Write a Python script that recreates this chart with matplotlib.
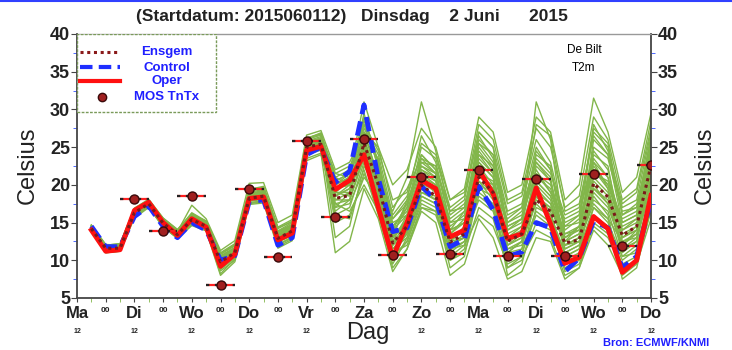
import matplotlib
matplotlib.use("Agg")
import matplotlib.pyplot as plt
from matplotlib.patches import Rectangle
from matplotlib.lines import Line2D

plt.rcParams['font.family'] = ['Liberation Sans', 'DejaVu Sans']

# --- forecast data, De Bilt T2m, run 2015-06-01 12 UTC ---
hours = list(range(6, 241, 6))

oper = [14.0, 11.2, 11.4, 16.6, 17.7, 15.0, 13.3, 15.5, 14.4, 9.2,
        10.8, 18.2, 18.4, 12.7, 13.6, 24.6, 25.1, 19.4, 20.6, 24.0,
        17.0, 10.3, 15.0, 20.6, 19.5, 13.1, 14.0, 22.0, 18.8, 12.9,
        13.5, 19.6, 14.8, 9.6, 10.4, 15.8, 14.2, 8.4, 10.0, 18.6]

control = [14.5, 11.8, 11.8, 15.8, 17.2, 14.5, 13.0, 15.0, 14.0, 10.0,
           10.6, 17.8, 18.0, 12.0, 13.0, 24.0, 25.0, 20.3, 21.8, 30.6,
           20.8, 13.8, 14.3, 19.8, 18.0, 11.8, 12.8, 19.8, 16.7, 10.5,
           11.1, 15.0, 14.3, 8.5, 10.3, 15.2, 14.3, 9.0, 10.5, 18.0]

ensgem = [14.2, 11.6, 11.6, 16.3, 17.5, 14.9, 13.4, 15.4, 14.5, 9.8,
          11.0, 18.2, 18.5, 12.9, 13.9, 25.0, 25.4, 18.2, 18.6, 25.5,
          20.0, 12.3, 14.5, 20.0, 18.5, 12.4, 13.5, 21.0, 19.0, 12.5,
          13.5, 18.0, 16.5, 12.3, 12.7, 20.2, 18.4, 13.3, 14.5, 22.6]

mos_hours = list(range(24, 241, 12))
mos_temp = [18.1, 13.9, 18.5, 6.7, 19.5, 10.5, 25.8, 15.8, 26.1, 10.7,
            21.1, 10.8, 22.0, 10.6, 20.8, 10.6, 21.5, 11.9, 22.6]

members = [
    [14.0, 11.2, 11.5, 16.0, 17.6, 15.0, 13.2, 15.2, 14.3, 9.0, 10.5, 18.0, 18.6, 12.5, 13.5, 24.8, 25.6, 19.5, 20.2, 26.5,
     19.0, 11.5, 13.8, 19.5, 18.0, 12.0, 13.0, 20.5, 18.0, 11.0, 12.5, 17.5, 15.5, 11.0, 12.0, 19.0, 17.0, 12.0, 13.5, 21.0],
    [14.5, 11.8, 11.9, 16.6, 17.4, 14.6, 13.6, 15.8, 14.8, 10.2, 11.4, 18.6, 18.9, 13.4, 14.4, 25.6, 26.0, 21.0, 22.0, 28.5,
     23.0, 14.5, 16.5, 22.5, 21.0, 14.0, 15.0, 24.0, 22.5, 14.5, 15.5, 22.0, 19.0, 13.5, 14.0, 23.5, 21.0, 15.0, 16.0, 25.0],
    [13.9, 11.0, 11.2, 15.8, 17.2, 14.4, 13.0, 14.7, 14.0, 8.2, 10.2, 17.6, 17.9, 12.0, 13.0, 24.0, 24.6, 16.0, 17.0, 23.0,
     17.5, 10.0, 12.5, 17.5, 16.5, 10.0, 11.0, 17.0, 15.5, 9.0, 10.0, 15.0, 14.0, 9.0, 10.0, 16.0, 14.5, 10.0, 11.5, 18.0],
    [14.3, 11.6, 11.8, 16.5, 17.8, 15.3, 13.5, 15.5, 14.6, 10.5, 11.6, 18.8, 19.3, 13.8, 14.8, 25.8, 26.4, 18.5, 19.5, 25.0,
     21.5, 13.0, 15.5, 21.5, 20.0, 15.5, 17.0, 26.0, 24.0, 16.5, 17.5, 25.0, 22.0, 14.0, 15.5, 22.0, 19.5, 13.0, 14.0, 23.0],
    [14.6, 12.0, 12.2, 16.9, 18.0, 15.6, 14.0, 16.3, 15.2, 11.0, 12.2, 19.4, 19.8, 14.4, 15.4, 26.2, 26.8, 20.0, 21.0, 27.5,
     24.0, 16.0, 18.5, 24.0, 22.0, 13.0, 14.0, 19.0, 17.5, 11.5, 12.5, 20.5, 18.5, 12.0, 13.0, 26.0, 24.0, 17.0, 18.0, 27.0],
    [14.1, 11.4, 11.4, 16.2, 17.3, 14.8, 13.3, 15.0, 14.2, 9.4, 10.8, 18.0, 18.3, 12.8, 13.7, 24.6, 25.2, 17.0, 17.5, 22.0,
     16.0, 9.5, 13.0, 18.5, 17.5, 11.0, 12.5, 21.5, 19.5, 12.0, 13.0, 18.5, 16.0, 10.0, 11.0, 20.0, 17.5, 11.5, 13.0, 20.5],
    [14.4, 11.7, 11.6, 16.4, 17.6, 15.1, 13.7, 15.6, 14.7, 10.0, 11.2, 18.4, 18.7, 13.2, 14.1, 25.3, 25.8, 19.0, 20.5, 29.5,
     22.0, 13.5, 17.0, 25.0, 23.5, 17.0, 18.5, 28.0, 26.0, 18.0, 19.0, 27.5, 25.0, 17.0, 18.5, 29.0, 26.0, 18.0, 19.5, 28.5],
    [14.2, 11.3, 11.5, 16.1, 17.5, 14.9, 13.1, 15.1, 14.4, 9.6, 10.9, 18.1, 18.4, 12.7, 13.8, 25.0, 25.3, 15.0, 16.0, 21.0,
     18.5, 12.0, 14.5, 20.5, 19.0, 12.5, 13.0, 18.0, 16.5, 10.0, 11.5, 16.5, 15.0, 8.5, 9.5, 14.5, 13.0, 9.0, 10.0, 16.5],
    [14.7, 12.1, 12.0, 16.8, 17.9, 15.4, 13.9, 16.0, 15.0, 10.8, 11.9, 19.0, 19.4, 13.9, 15.0, 26.0, 26.6, 21.5, 22.5, 26.0,
     20.0, 16.5, 21.0, 31.0, 24.5, 16.0, 17.5, 23.0, 21.0, 13.0, 14.0, 21.5, 20.0, 14.5, 16.0, 24.5, 22.0, 14.0, 15.5, 22.5],
    [13.9, 11.1, 11.3, 15.9, 17.1, 14.5, 12.9, 14.8, 14.1, 8.6, 10.0, 17.5, 17.8, 11.8, 12.8, 23.5, 24.2, 11.0, 12.5, 19.5,
     15.5, 8.5, 11.5, 16.5, 15.0, 8.0, 9.5, 15.5, 13.0, 7.5, 8.5, 13.0, 12.5, 7.5, 9.0, 14.0, 12.0, 8.0, 9.5, 15.5],
    [14.3, 11.5, 11.7, 16.4, 17.5, 15.0, 13.5, 15.3, 14.5, 9.9, 11.1, 18.3, 18.6, 13.0, 14.0, 25.1, 25.5, 18.0, 19.0, 24.5,
     20.5, 12.5, 14.0, 19.0, 18.5, 12.5, 14.0, 22.5, 20.0, 12.5, 13.5, 19.5, 17.5, 12.5, 13.5, 21.0, 19.0, 13.5, 14.5, 22.0],
    [14.5, 11.9, 12.1, 16.7, 17.7, 15.2, 13.8, 17.3, 15.5, 11.3, 12.6, 20.2, 20.3, 15.0, 16.0, 26.6, 27.2, 22.0, 23.0, 27.0,
     25.0, 20.0, 22.0, 27.5, 25.0, 18.0, 19.5, 29.0, 27.0, 19.0, 20.0, 29.0, 27.0, 18.0, 20.0, 31.5, 27.0, 19.0, 21.0, 29.5],
    [14.0, 11.3, 11.4, 16.0, 17.3, 14.7, 13.2, 14.9, 14.2, 9.3, 10.6, 17.9, 18.2, 12.5, 13.4, 24.4, 25.0, 16.5, 18.0, 24.0,
     18.0, 11.0, 13.5, 22.0, 20.5, 13.5, 15.5, 25.5, 23.0, 15.0, 16.5, 23.5, 21.5, 16.0, 17.0, 27.0, 25.0, 16.0, 17.0, 24.5],
    [14.4, 11.8, 11.9, 16.6, 17.8, 15.4, 13.8, 15.8, 14.9, 10.4, 11.5, 18.7, 19.0, 13.6, 14.6, 25.5, 26.0, 20.5, 21.5, 31.0,
     25.0, 17.0, 19.5, 23.5, 21.5, 14.5, 16.0, 24.5, 22.0, 14.0, 15.0, 31.0, 26.0, 13.0, 14.5, 22.5, 20.0, 15.5, 16.5, 26.5],
    [14.2, 11.5, 11.6, 16.3, 17.5, 14.9, 13.4, 15.4, 14.5, 9.7, 10.9, 18.2, 18.5, 12.9, 13.9, 25.0, 25.4, 19.0, 18.5, 26.0,
     21.0, 10.5, 12.5, 18.0, 17.0, 9.0, 10.5, 19.5, 18.5, 8.0, 9.5, 17.0, 16.0, 11.0, 12.0, 18.5, 16.0, 7.5, 9.0, 17.0],
    [14.3, 11.6, 11.7, 16.4, 17.6, 15.0, 13.5, 15.6, 14.6, 9.8, 11.0, 18.3, 18.6, 13.1, 14.2, 25.2, 25.6, 13.0, 14.5, 22.5,
     19.0, 13.5, 15.0, 21.0, 20.0, 11.5, 12.0, 20.0, 19.0, 13.5, 14.5, 24.0, 22.5, 11.5, 12.5, 17.5, 15.5, 12.5, 13.5, 19.0],
    [14.6, 12.0, 12.2, 16.9, 18.1, 15.6, 14.1, 16.1, 15.2, 10.9, 12.0, 19.2, 19.6, 14.3, 15.1, 26.1, 26.9, 20.5, 21.5, 28.0,
     22.5, 15.5, 17.5, 23.0, 22.5, 16.5, 18.0, 27.0, 25.0, 17.5, 18.5, 26.0, 23.0, 15.0, 16.0, 28.0, 24.5, 17.5, 19.0, 27.5],
    [13.9, 11.0, 11.2, 15.6, 17.0, 14.4, 12.9, 14.6, 13.9, 8.0, 9.8, 17.4, 17.6, 11.6, 12.6, 23.2, 24.0, 17.5, 16.5, 20.0,
     16.5, 9.0, 11.5, 17.0, 16.0, 10.5, 12.0, 16.0, 14.5, 9.5, 10.5, 14.0, 13.0, 8.0, 9.0, 15.0, 13.5, 9.5, 10.5, 17.5],
    [14.2, 11.5, 11.8, 16.3, 17.4, 14.8, 13.5, 15.4, 14.5, 9.5, 11.1, 18.1, 18.4, 12.9, 14.1, 25.1, 25.3, 18.5, 19.5, 25.5,
     20.0, 12.0, 15.5, 21.0, 19.5, 12.5, 14.5, 21.5, 20.5, 12.0, 13.0, 18.0, 17.0, 12.0, 13.0, 20.5, 18.5, 12.0, 14.0, 23.0],
    [14.4, 11.7, 11.8, 16.5, 17.6, 15.1, 13.6, 15.6, 14.7, 10.1, 11.3, 18.5, 18.8, 13.3, 14.3, 25.4, 25.9, 19.5, 20.0, 27.0,
     21.0, 14.0, 16.0, 22.0, 21.0, 13.5, 15.0, 23.0, 21.0, 13.0, 14.5, 20.5, 18.5, 13.0, 14.0, 22.0, 20.0, 14.0, 15.0, 24.0],
    [14.1, 11.4, 11.6, 16.2, 17.4, 14.8, 13.3, 15.2, 14.4, 9.6, 10.9, 18.0, 18.3, 12.8, 13.8, 24.9, 25.5, 20.0, 21.0, 24.5,
     19.5, 13.0, 18.0, 26.5, 23.0, 15.0, 16.5, 20.5, 19.0, 15.5, 17.0, 23.0, 21.0, 10.5, 11.5, 19.5, 18.0, 11.0, 12.5, 20.0],
    [14.5, 11.9, 12.0, 16.7, 17.8, 15.3, 13.7, 15.9, 14.9, 10.6, 11.7, 18.9, 19.1, 13.7, 14.7, 25.7, 26.2, 17.5, 18.0, 23.5,
     22.0, 15.0, 16.0, 20.0, 19.5, 14.0, 15.0, 27.0, 25.0, 14.0, 15.5, 23.0, 20.5, 12.5, 13.5, 25.0, 23.5, 16.5, 17.0, 26.0],
    [14.0, 11.2, 11.3, 15.9, 17.2, 14.6, 13.1, 15.0, 14.2, 9.1, 10.5, 17.8, 18.1, 12.4, 13.3, 24.5, 25.0, 19.0, 19.0, 27.0,
     21.0, 11.0, 12.0, 17.0, 16.5, 11.5, 12.5, 18.5, 17.0, 10.5, 11.0, 16.0, 14.5, 10.5, 11.5, 17.0, 15.0, 10.5, 11.0, 19.5],
    [14.3, 11.6, 11.7, 16.4, 17.6, 15.1, 13.5, 15.5, 14.6, 10.0, 11.2, 18.3, 18.6, 13.1, 14.0, 25.2, 25.7, 20.0, 21.5, 26.0,
     23.5, 14.0, 17.5, 23.0, 21.5, 12.0, 13.0, 21.0, 20.0, 12.5, 13.5, 21.0, 19.5, 13.5, 14.5, 23.0, 21.0, 13.0, 14.5, 21.5],
    [14.6, 12.0, 12.1, 16.8, 17.9, 15.5, 14.0, 16.2, 15.1, 10.8, 12.1, 19.3, 19.7, 14.2, 15.2, 26.2, 26.7, 21.0, 20.0, 25.0,
     18.5, 12.5, 16.0, 24.0, 22.0, 16.5, 17.0, 24.0, 21.5, 11.5, 12.0, 18.5, 17.0, 12.5, 14.5, 24.0, 22.5, 12.5, 13.0, 21.0],
    [13.9, 11.1, 11.3, 15.8, 17.1, 14.5, 13.0, 14.8, 14.0, 8.8, 10.3, 17.6, 17.9, 12.1, 13.1, 24.2, 24.8, 16.0, 15.5, 21.5,
     17.0, 12.0, 13.5, 19.0, 18.0, 10.0, 11.5, 20.0, 17.0, 9.0, 10.5, 18.5, 16.5, 9.5, 10.5, 17.0, 15.5, 8.5, 10.0, 17.0],
    [14.4, 11.7, 11.8, 16.5, 17.7, 15.2, 13.6, 15.7, 14.8, 10.3, 11.4, 18.6, 18.9, 13.4, 14.5, 25.5, 26.1, 21.5, 21.0, 28.0,
     24.5, 18.0, 19.0, 25.5, 24.0, 18.0, 19.0, 26.5, 23.5, 16.0, 17.0, 28.0, 26.5, 16.5, 17.5, 26.5, 24.0, 15.0, 16.0, 25.5],
    [14.2, 11.5, 11.5, 16.2, 17.4, 14.9, 13.3, 15.3, 14.4, 9.5, 10.8, 18.1, 18.4, 12.8, 13.7, 24.9, 25.3, 18.5, 20.0, 23.5,
     19.0, 10.0, 14.0, 21.5, 20.5, 13.0, 14.0, 22.0, 19.0, 11.0, 12.5, 22.5, 20.5, 12.0, 12.5, 21.5, 20.5, 14.5, 15.5, 24.5],
    [14.5, 11.8, 12.0, 16.6, 17.7, 15.3, 13.8, 15.9, 15.0, 10.5, 11.6, 18.8, 19.1, 13.6, 14.6, 25.6, 26.2, 19.5, 20.5, 29.0,
     23.0, 15.5, 18.0, 22.5, 21.5, 14.0, 16.5, 25.0, 22.5, 15.0, 16.0, 21.5, 19.0, 15.5, 16.5, 23.0, 19.5, 11.5, 12.5, 23.5],
    [14.1, 11.3, 11.4, 16.1, 17.3, 14.7, 13.2, 15.1, 14.3, 9.2, 10.7, 17.9, 18.2, 12.6, 13.6, 24.7, 25.1, 17.0, 19.0, 25.0,
     20.0, 11.5, 13.0, 18.5, 17.5, 12.0, 13.5, 23.5, 21.5, 11.0, 11.5, 20.0, 18.0, 11.5, 12.5, 18.0, 16.5, 10.5, 12.0, 18.5],
    [14.3, 11.6, 11.7, 16.4, 17.5, 15.0, 13.4, 15.5, 14.5, 9.9, 11.0, 18.2, 18.5, 12.9, 13.9, 25.0, 25.5, 18.0, 18.0, 24.0,
     20.5, 14.5, 17.0, 23.5, 22.5, 15.0, 15.5, 25.5, 24.0, 14.5, 15.5, 24.5, 22.0, 14.5, 15.0, 27.5, 25.5, 16.0, 17.5, 25.0],
    [14.2, 11.5, 11.6, 16.3, 17.5, 14.9, 13.4, 15.4, 14.5, 9.7, 10.9, 18.2, 18.5, 12.9, 13.9, 25.0, 25.4, 19.5, 20.0, 25.5,
     20.5, 13.0, 15.0, 20.5, 19.0, 13.0, 14.0, 21.5, 19.5, 12.0, 13.5, 19.0, 17.5, 12.0, 13.0, 19.5, 17.5, 13.0, 14.0, 22.5],
]

day_names = ['Ma', 'Di', 'Wo', 'Do', 'Vr', 'Za', 'Zo', 'Ma', 'Di', 'Wo', 'Do']

GREEN = '#82b64a'
BLUE_TXT = '#1f1fff'
DARK = '#222222'

fig = plt.figure(figsize=(7.32, 3.5), dpi=100)
ax = fig.add_axes([77 / 732, 52 / 350, 574 / 732, 264 / 350])

# ensemble members
for m in members:
    ax.plot(hours, m, color=GREEN, lw=1.0, zorder=2)

ax.plot(hours, control, color='#1f2fff', lw=3.5, ls=(0, (3, 1.5)), zorder=4)
ax.plot(hours, oper, color='#ff1010', lw=3.5, zorder=5)
ax.plot(hours, ensgem, color='#7a1a1a', lw=2.2, ls=(0, (1, 1.2)), zorder=6)

# MOS Tn/Tx with time window bars
ax.errorbar(mos_hours, mos_temp, xerr=6, fmt='none', ecolor='#ff2020', elinewidth=1.6, capsize=0, zorder=7)
ax.hlines(mos_temp, [h - 6 for h in mos_hours], [h + 6 for h in mos_hours],
          colors=DARK, linestyles=(0, (1.5, 2.5)), lw=1.6, zorder=8)
ax.plot(mos_hours, mos_temp, 'o', ms=6.5, mfc='#a02020', mec='#3a0a0a', mew=1, zorder=9)

ax.set_xlim(0, 240)
ax.set_ylim(5, 40)

for side in ['left', 'right', 'bottom']:
    ax.spines[side].set_color('#444444')
    ax.spines[side].set_linewidth(1.3)
ax.spines['top'].set_color('#999999')
ax.spines['top'].set_linestyle((0, (2, 1)))
ax.spines['top'].set_linewidth(1.0)

ax.set_yticks(range(5, 41, 5))
ax.set_yticks([7.5 + 5 * i for i in range(7)], minor=True)
ax.tick_params(axis='y', which='both', left=True, right=True, labelleft=True, labelright=True,
               labelsize=13, direction='out', pad=1)
ax.tick_params(axis='y', which='major', length=4, color='#444444')
ax.tick_params(axis='y', which='minor', length=3, color='#3050ff')
for lab in ax.get_yticklabels():
    lab.set_fontweight('bold')
    lab.set_color(DARK)

ax.set_xticks(range(0, 241, 12))
ax.set_xticks(range(6, 240, 12), minor=True)
ax.set_xticklabels([])
ax.tick_params(axis='x', which='major', length=3, color='#444444', direction='out')
ax.tick_params(axis='x', which='minor', length=3, color=GREEN, direction='out')

# day / hour labels under the axis
tr = ax.get_xaxis_transform()
for i, name in enumerate(day_names):
    ax.text(i * 24, -0.057, name, transform=tr, ha='center', va='center',
            fontsize=12, fontweight='bold', color=DARK)
    if name != 'Za':  # hidden behind the axis title
        ax.text(i * 24, -0.128, '12', transform=tr, ha='center', va='center',
                fontsize=5, fontweight='bold', color=DARK)
for i in range(10):
    ax.text(i * 24 + 12, -0.048, '00', transform=tr, ha='center', va='center',
            fontsize=6, fontweight='bold', color=DARK)

fig.text(368 / 732, 1 - 333 / 350, 'Dag', ha='center', va='center', fontsize=17, color=DARK)
fig.text(28 / 732, 1 - 165 / 350, 'Celsius', rotation=90, ha='center', va='center', fontsize=17, color=DARK)
fig.text(705 / 732, 1 - 165 / 350, 'Celsius', rotation=90, ha='center', va='center', fontsize=17, color=DARK)

fig.text(352 / 732, 1 - 17 / 350, '(Startdatum: 2015060112)   Dinsdag    2 Juni      2015',
         ha='center', va='center', fontsize=12.5, fontweight='bold', color=DARK)

fig.text(584 / 732, 1 - 50 / 350, 'De Bilt', ha='center', va='center', fontsize=8.5)
fig.text(584 / 732, 1 - 68 / 350, 'T2m', ha='center', va='center', fontsize=8.5)

fig.text(709 / 732, 1 - 343 / 350, 'Bron: ECMWF/KNMI', ha='right', va='center',
         fontsize=8, fontweight='bold', color=BLUE_TXT)

# legend box, drawn in axes fraction
ta = ax.transAxes
def fx(px):
    return (px - 77) / 574
def fy(py):
    return (298 - py) / 264

ax.add_patch(Rectangle((0, fy(112)), fx(216), fy(34) - fy(112), transform=ta, fill=True,
                       facecolor='white', edgecolor='#7a9a5a', ls=(0, (2, 1)), lw=1.0, zorder=10))
ax.add_line(Line2D([fx(80), fx(120)], [fy(52)] * 2, transform=ta, color='#8a1a1a', lw=2.2,
                   ls=(0, (1, 1.2)), zorder=11))
ax.add_line(Line2D([fx(80), fx(120)], [fy(67)] * 2, transform=ta, color='#1f2fff', lw=3.0,
                   ls=(0, (3, 1.5)), zorder=11))
ax.add_line(Line2D([fx(80), fx(120)], [fy(81)] * 2, transform=ta, color='#ff1010', lw=3.0, zorder=11))
ax.add_line(Line2D([fx(102)], [fy(97)], transform=ta, marker='o', ms=6, mfc='#a02020', mec='#3a0a0a',
                   ls='none', zorder=11))
for py, txt in [(52, 'Ensgem'), (68, 'Control'), (81, 'Oper'), (97, 'MOS TnTx')]:
    ax.text(fx(167), fy(py), txt, transform=ta, ha='center', va='center', fontsize=9.5,
            fontweight='bold', color=BLUE_TXT, zorder=12)

# thin blue frame line on top of the image
fig.add_artist(Line2D([0, 1], [0.998, 0.998], transform=fig.transFigure, color='#3040ff', lw=1.5))

fig.savefig('out.png', dpi=100)
